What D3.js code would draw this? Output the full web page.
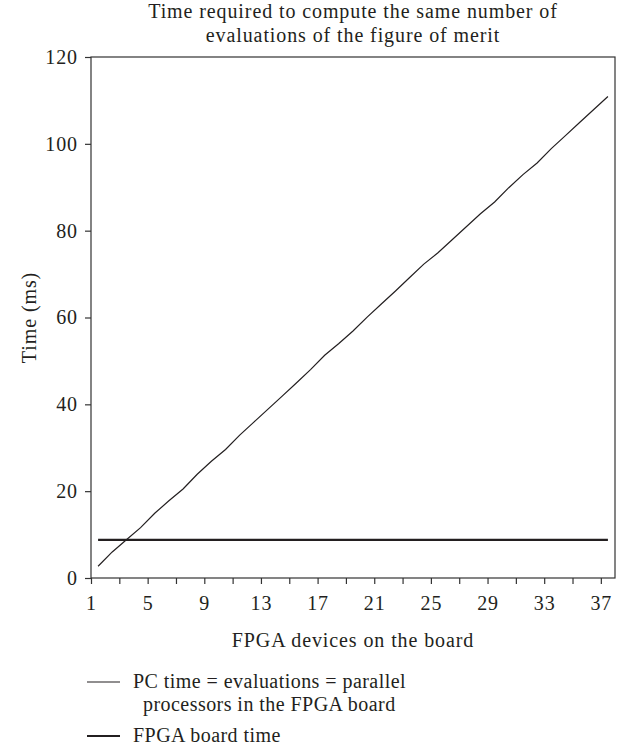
<!DOCTYPE html>
<html>
<head>
<meta charset="utf-8">
<script src="https://cdn.jsdelivr.net/npm/d3@7"></script>
<style>
  body { margin: 0; background: #fff; }
  text { font-family: "Liberation Serif", "DejaVu Serif", serif; fill: #231f20; }
</style>
</head>
<body>
<div id="chart"></div>
<script>
// devices on the board (categories) and the two series
var devices = d3.range(1, 38);
var pcTime = [2.7, 6.0, 8.8, 11.6, 14.9, 17.8, 20.5, 23.9, 26.9, 29.6,
  32.9, 35.9, 38.9, 41.9, 44.9, 48.0, 51.3, 54.0, 56.9, 60.1,
  63.1, 66.1, 69.2, 72.3, 74.9, 77.9, 80.9, 83.9, 86.6, 89.9,
  92.9, 95.6, 98.9, 101.9, 104.9, 107.9, 110.9];
var fpgaTime = devices.map(function() { return 8.8; });
var xTickLabels = [1, 5, 9, 13, 17, 21, 25, 29, 33, 37];
var xTickMarks = d3.range(1, 38, 2);
var yTicks = [0, 20, 40, 60, 80, 100, 120];

var svgWidth = 622, svgHeight = 754;
var margin = { top: 57, right: 7, bottom: 176, left: 91 };
var width = svgWidth - margin.left - margin.right;
var height = svgHeight - margin.top - margin.bottom;

var fontSize = "20px";
var spacing = "0.9px";

var svg = d3.select("#chart").append("svg")
  .attr("width", svgWidth)
  .attr("height", svgHeight);

var chartGroup = svg.append("g")
  .attr("transform", `translate(${margin.left}, ${margin.top})`);

// category axis: points sit in the middle of each category slot
var xScale = d3.scaleLinear().domain([1, 38]).range([0, width]);
var yScale = d3.scaleLinear().domain([0, 120]).range([height, 0]);

var axisColor = "#333";

// frame
chartGroup.append("rect")
  .attr("width", width)
  .attr("height", height)
  .attr("fill", "none")
  .attr("stroke", axisColor)
  .attr("stroke-width", 1.2);

// x axis ticks (every 2) and labels (every 4)
var xAxis = chartGroup.append("g")
  .attr("transform", `translate(0, ${height})`)
  .call(d3.axisBottom(xScale).tickValues(xTickMarks).tickSize(6).tickFormat(""));
xAxis.select(".domain").remove();
xAxis.selectAll("line").attr("stroke", axisColor).attr("stroke-width", 1.2);

var xLabels = chartGroup.append("g")
  .attr("transform", `translate(0, ${height})`)
  .call(d3.axisBottom(xScale).tickValues(xTickLabels).tickSize(0).tickPadding(18));
xLabels.select(".domain").remove();
xLabels.selectAll("text")
  .style("font-size", fontSize)
  .style("letter-spacing", spacing)
  .style("font-family", "Liberation Serif, serif")
  .attr("fill", "#231f20");

var yAxis = chartGroup.append("g")
  .call(d3.axisLeft(yScale).tickValues(yTicks).tickSize(6).tickPadding(7));
yAxis.select(".domain").remove();
yAxis.selectAll("line").attr("stroke", axisColor).attr("stroke-width", 1.2);
yAxis.selectAll("text")
  .style("font-size", fontSize)
  .style("letter-spacing", spacing)
  .style("font-family", "Liberation Serif, serif")
  .attr("fill", "#231f20");

// lines
var line = d3.line()
  .x(function(d, i) { return xScale(devices[i] + 0.5); })
  .y(function(d) { return yScale(d); });

chartGroup.append("path")
  .datum(fpgaTime)
  .attr("d", line)
  .attr("fill", "none")
  .attr("stroke", "#231f20")
  .attr("stroke-width", 2.2);

chartGroup.append("path")
  .datum(pcTime)
  .attr("d", line)
  .attr("fill", "none")
  .attr("stroke", "#231f20")
  .attr("stroke-width", 1.2);

// title
var title = svg.append("text")
  .attr("text-anchor", "middle")
  .style("font-size", fontSize)
  .style("letter-spacing", spacing);
title.append("tspan").attr("x", margin.left + width / 2).attr("y", 18)
  .text("Time required to compute the same number of");
title.append("tspan").attr("x", margin.left + width / 2).attr("y", 42)
  .text("evaluations of the figure of merit");

// axis titles
svg.append("text")
  .attr("x", margin.left + width / 2)
  .attr("y", 647)
  .attr("text-anchor", "middle")
  .style("font-size", fontSize)
  .style("letter-spacing", spacing)
  .text("FPGA devices on the board");

svg.append("text")
  .attr("transform", `translate(36, ${margin.top + height / 2}) rotate(-90)`)
  .attr("text-anchor", "middle")
  .style("font-size", fontSize)
  .style("letter-spacing", spacing)
  .text("Time (ms)");

// legend
var legend = svg.append("g")
  .style("font-size", fontSize)
  .style("letter-spacing", "0.45px");
legend.append("line")
  .attr("x1", 87).attr("x2", 120).attr("y1", 682).attr("y2", 682)
  .attr("stroke", "#231f20").attr("stroke-width", 1.2);
legend.append("text").attr("x", 133).attr("y", 688)
  .text("PC time = evaluations = parallel");
legend.append("text").attr("x", 143).attr("y", 711)
  .text("processors in the FPGA board");
legend.append("line")
  .attr("x1", 87).attr("x2", 120).attr("y1", 736).attr("y2", 736)
  .attr("stroke", "#231f20").attr("stroke-width", 2.2);
legend.append("text").attr("x", 133).attr("y", 742)
  .text("FPGA board time");
</script>
</body>
</html>
